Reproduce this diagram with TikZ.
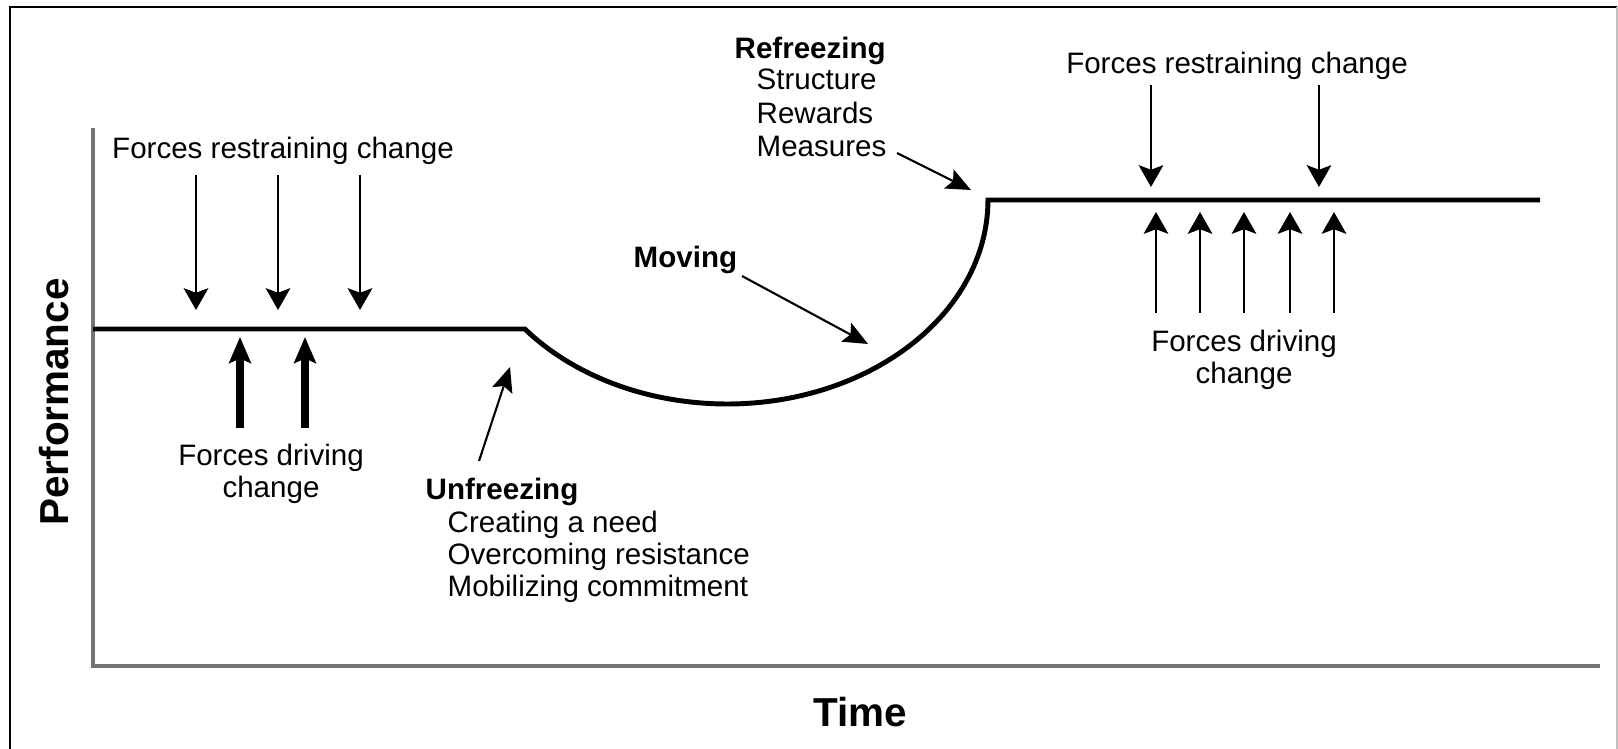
\documentclass[tikz,border=0pt]{standalone}
\usepackage{fontspec}
\setmainfont{Liberation Sans}
\usetikzlibrary{arrows.meta}

\tikzset{
  txt/.style={font=\fontsize{8.4}{9.2}\selectfont, inner sep=0pt},
  head/.style={font=\fontsize{8.4}{9.2}\selectfont\bfseries, inner sep=0pt},
  axlabel/.style={font=\fontsize{11.5}{13}\selectfont\bfseries, inner sep=0pt},
  force/.style={line width=0.6pt, -{Stealth[length=6.2pt,width=7pt,inset=1.3pt]}},
  bigforce/.style={line width=2pt, -{Stealth[length=7.4pt,width=6.2pt,inset=1.3pt]}},
  pointer/.style={line width=0.6pt, -{Stealth[length=7pt,width=6pt,inset=1.3pt]}},
}

\begin{document}
\begin{tikzpicture}[x=0.01cm, y=-0.01cm]
\useasboundingbox (0,0) rectangle (1618,749);

\coordinate (o) at (93,666);
\coordinate (ytop) at (93,128);
\coordinate (xend) at (1600,666);

\coordinate (start) at (93,329);
\coordinate (kink) at (524.8,329);
\coordinate (end) at (1540,200);

\coordinate (unfa) at (479,461);
\coordinate (unfb) at (510,367);
\coordinate (mova) at (742,276);
\coordinate (movb) at (868,344);
\coordinate (refa) at (897,153);
\coordinate (refb) at (971,190);

% frame
\draw[line width=0.75pt] (10,749) -- (10,7) -- (1617,7);
\draw[gray!50, line width=0.4pt] (1617,7) -- (1617,749);

% axes
\draw[black!55, line width=1pt] (ytop) -- (o) -- (xend);
\node[axlabel, rotate=90] (perf) at (54,402) {Performance};
\node[axlabel] (time) at (860,712) {Time};

% performance line
\draw[line width=1.4pt] (start) -- (kink) arc[start angle=140.77, end angle=0, x radius=261, y radius=204] -- (end);

% left forces
\node[txt] (rl) at (283,151) {Forces restraining change};
\draw[force] (196,175) -- (196,310);
\draw[force] (278,175) -- (278,310);
\draw[force] (360,175) -- (360,310);
\draw[bigforce] (240,428) -- (240,337);
\draw[bigforce] (305,428) -- (305,337);
\node[txt, align=center] (dl) at (271,474) {Forces driving\\change};

% right forces
\node[txt] (rr) at (1237,66) {Forces restraining change};
\draw[force] (1151,85) -- (1151,187);
\draw[force] (1319,85) -- (1319,187);
\draw[force] (1156,313) -- (1156,212);
\draw[force] (1200,313) -- (1200,212);
\draw[force] (1244,313) -- (1244,212);
\draw[force] (1290,313) -- (1290,212);
\draw[force] (1334,313) -- (1334,212);
\node[txt, align=center] (dr) at (1244,360) {Forces driving\\change};

% unfreezing
\node[head, anchor=north west] (unf) at (425,477) {Unfreezing};
\node[txt, align=left, anchor=north west] (unfitems) at (447,510) {Creating a need\\Overcoming resistance\\Mobilizing commitment};
\draw[pointer] (unfa) -- (unfb);

% moving
\node[head, anchor=west] (mov) at (633,260) {Moving};
\draw[pointer] (mova) -- (movb);

% refreezing
\node[head, anchor=north west] (ref) at (734,36.5) {Refreezing};
\node[txt, align=left, anchor=north west, font=\fontsize{8.4}{9.5}\selectfont] (refitems) at (756,68.5) {Structure\\Rewards\\Measures};
\draw[pointer] (refa) -- (refb);

\end{tikzpicture}
\end{document}
